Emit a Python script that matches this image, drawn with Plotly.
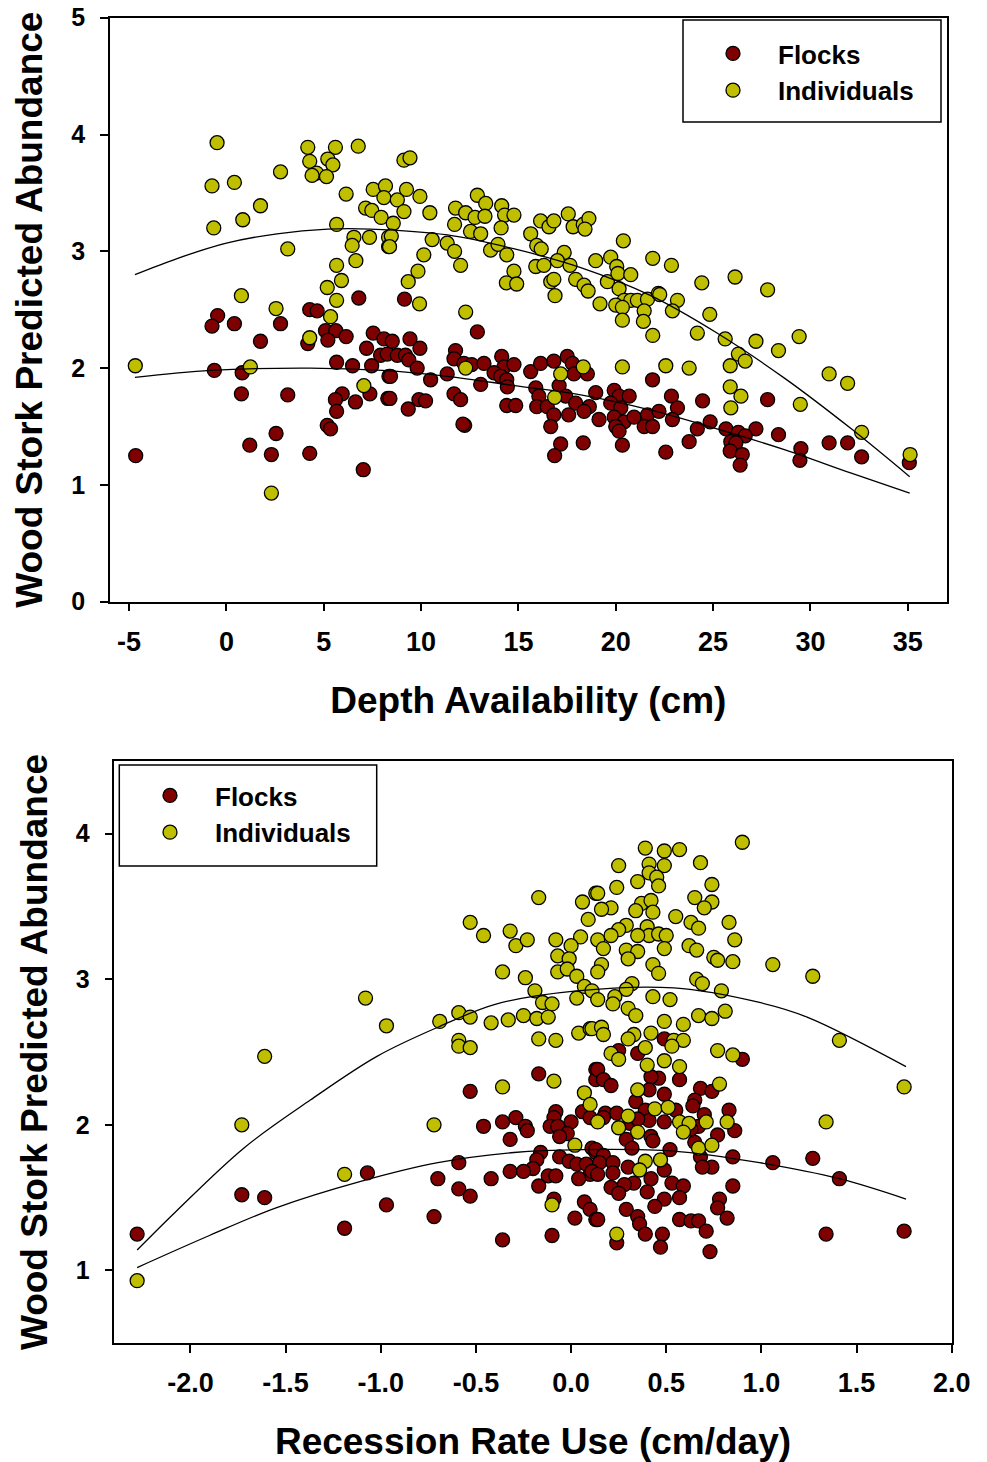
import plotly.graph_objects as go

# ---------------- Top panel: Depth Availability ----------------
depth_flocks_x = [6.80, -0.45, -0.74, 0.41, 2.78, 1.75, 4.28, 4.66, 5.09, 5.62, 6.15, 4.18, 5.21, 7.54, 8.09, 7.20, 7.92, 8.26,
                  5.66, 6.48, 7.46, 8.35, -0.62, 0.81, 0.77, 3.15, 5.95, 5.60, 6.63, 7.37, 8.29, 5.66, 5.18, 5.35, 2.55, 1.20,
                  2.31, 4.28, -4.66, 7.03,
                  9.15, 12.89, 8.52, 9.43, 9.94, 8.78, 9.20, 9.37, 9.80, 8.43, 10.49, 11.77, 11.69, 12.20, 12.60, 13.23, 14.14,
                  14.26, 14.77, 13.75, 11.34, 14.09, 14.40, 13.06, 14.43, 8.40, 9.89, 10.23, 11.69, 12.03, 9.34, 12.24, 12.15,
                  14.40, 14.86, 15.63, 16.14, 16.82, 17.51, 17.77, 17.85, 18.54, 15.89, 17.09, 16.05, 17.43, 15.94, 16.48,
                  17.94, 18.64, 18.37, 16.82, 17.58, 16.66, 18.97, 19.14, 19.92, 20.17, 20.69, 19.74, 20.26, 19.92, 20.43,
                  20.94, 21.63, 21.46, 21.89, 20.00, 20.17, 20.34, 21.89, 17.17, 18.33, 16.86,
                  22.86, 24.46, 27.80, 23.17, 22.22, 22.91, 24.85, 24.19, 25.66, 27.20, 26.30, 26.65, 28.36, 23.77, 25.91,
                  26.17, 25.88, 26.50, 22.57, 26.39, 29.51, 29.46, 30.96, 31.91, 32.63, 35.08]
depth_flocks_y = [2.60, 2.45, 2.36, 2.38, 2.38, 2.23, 2.50, 2.49, 2.32, 2.32, 2.27, 2.21, 2.24, 2.30, 2.25, 2.17, 2.11, 2.12,
                  2.05, 2.02, 2.02, 1.93, 1.98, 1.96, 1.78, 1.77, 1.78, 1.73, 1.71, 1.78, 1.74, 1.63, 1.51, 1.48, 1.44, 1.34,
                  1.26, 1.27, 1.25, 1.13,
                  2.59, 2.31, 2.23, 2.25, 2.17, 2.11, 2.11, 2.07, 2.00, 1.93, 1.90, 2.15, 2.08, 2.04, 2.03, 2.04, 2.10,
                  2.01, 2.03, 1.96, 1.95, 1.93, 1.90, 1.86, 1.84, 1.74, 1.73, 1.72, 1.78, 1.73, 1.65, 1.51, 1.52,
                  1.68, 1.68, 1.97, 2.04, 2.06, 2.10, 2.04, 1.95, 1.95, 1.83, 1.85, 1.76, 1.76, 1.67, 1.67,
                  1.70, 1.67, 1.63, 1.60, 1.60, 1.50, 1.79, 1.56, 1.81, 1.76, 1.76, 1.70, 1.66, 1.58, 1.54,
                  1.58, 1.60, 1.50, 1.50, 1.50, 1.46, 1.34, 1.90, 1.35, 1.36, 1.25,
                  1.76, 1.72, 1.73, 1.66, 1.63, 1.56, 1.54, 1.48, 1.48, 1.48, 1.45, 1.42, 1.43, 1.37, 1.37,
                  1.36, 1.29, 1.26, 1.28, 1.17, 1.31, 1.21, 1.36, 1.36, 1.24, 1.19]

depth_indiv_x = [-0.48, 4.18, 5.60, 6.77, 4.28, 5.21, 5.47, 4.63, 4.40, 5.14, 2.78, -0.74, 0.41, 6.15, 7.54, 8.17, 8.09, 1.75,
                 0.84, -0.65, 7.15, 7.47, 7.95, 5.66, 6.55, 7.35, 6.46, 8.33, 8.33, 3.15, 6.65, 5.66, 5.91, 5.18, 5.66, 0.77,
                 2.55, 5.35, 4.28, -4.68, 1.23, 7.06, 2.31,
                 9.12, 9.43, 8.78, 9.25, 9.12, 9.94, 10.45, 8.57, 8.47, 8.38, 10.57, 10.14, 9.84, 9.34, 9.92, 11.77, 11.72,
                 12.29, 12.89, 13.32, 12.77, 13.28, 12.54, 13.06, 11.34, 11.72, 12.03, 12.29, 13.57, 13.95, 14.40, 14.14,
                 14.29, 14.77, 14.11, 14.77, 14.38, 14.91, 15.63, 15.94, 16.17, 16.14, 16.57, 16.82, 15.89, 16.31, 16.66,
                 16.82, 16.88, 17.35, 17.00, 17.65, 17.56, 17.81, 18.33, 18.62, 18.42, 17.94, 18.37, 18.58, 18.97, 19.74,
                 20.05, 19.57, 20.11, 20.77, 20.17, 20.39, 20.43, 20.77, 21.11, 20.00, 20.34, 20.34, 19.19, 21.63, 21.46,
                 21.42, 21.90, 21.90, 22.19, 12.29, 17.17, 18.33, 20.34, 16.86,
                 22.86, 24.42, 26.13, 27.80, 22.26, 23.17, 22.91, 24.83, 24.19, 25.62, 27.20, 29.42, 26.30, 26.65, 25.88,
                 28.36, 22.57, 23.77, 30.96, 31.91, 25.88, 26.43, 25.91, 29.48, 32.63, 35.12]
depth_indiv_y = [3.93, 3.89, 3.89, 3.90, 3.77, 3.79, 3.74, 3.67, 3.65, 3.64, 3.68, 3.56, 3.59, 3.49, 3.53, 3.56, 3.46, 3.39,
                 3.27, 3.20, 3.37, 3.35, 3.29, 3.23, 3.12, 3.12, 3.05, 3.12, 3.04, 3.02, 2.92, 2.88, 2.75, 2.69, 2.58, 2.62,
                 2.51, 2.44, 2.26, 2.02, 2.01, 1.85, 0.93,
                 3.78, 3.80, 3.44, 3.53, 3.34, 3.47, 3.33, 3.24, 3.13, 3.04, 3.10, 2.97, 2.83, 2.74, 2.55, 3.37, 3.23,
                 3.33, 3.48, 3.41, 3.29, 3.30, 3.17, 3.15, 3.07, 3.00, 2.88, 2.48, 3.01, 3.06, 2.97, 3.39,
                 3.31, 3.31, 3.20, 2.83, 2.73, 2.72, 3.15, 3.05, 3.02, 3.26, 3.21, 3.26, 2.87, 2.88, 2.74,
                 2.76, 2.62, 2.99, 2.92, 2.88, 3.32, 3.21, 3.23, 3.28, 3.19, 2.76, 2.71, 2.66, 2.92, 2.95,
                 2.87, 2.74, 2.81, 2.80, 2.68, 3.09, 2.58, 2.58, 2.58, 2.54, 2.52, 2.41, 2.55, 2.59, 2.49,
                 2.40, 2.28, 2.94, 2.64, 2.00, 1.95, 2.01, 2.01, 1.75,
                 2.88, 2.73, 2.78, 2.67, 2.63, 2.58, 2.49, 2.46, 2.30, 2.25, 2.23, 2.27, 2.12, 2.06, 2.02,
                 2.15, 2.02, 2.00, 1.95, 1.87, 1.84, 1.76, 1.66, 1.69, 1.45, 1.26]

depth_flocks_fit_x = [-4.7, -0.8, 4.3, 8.0, 11.35, 14.8, 18.2, 21.8, 25.2, 28.7, 32.1, 35.1]
depth_flocks_fit_y = [1.92, 1.98, 2.00, 1.98, 1.93, 1.85, 1.77, 1.64, 1.48, 1.30, 1.10, 0.93]
depth_indiv_fit_x = [-4.7, -2.5, 0.0, 2.6, 5.2, 7.4, 11.35, 14.8, 18.2, 21.8, 25.2, 28.7, 32.1, 35.1]
depth_indiv_fit_y = [2.80, 2.94, 3.07, 3.15, 3.19, 3.19, 3.14, 3.02, 2.86, 2.62, 2.30, 1.91, 1.48, 1.07]

depth_tickvals = [-5, 0, 5, 10, 15, 20, 25, 30, 35]
depth_ticktext = ["-5", "0", "5", "10", "15", "20", "25", "30", "35"]
depth_ytickvals = [0, 1, 2, 3, 4, 5]

# ---------------- Bottom panel: Recession Rate Use ----------------
rec_flocks_x = [-2.28, -1.73, -1.61, -1.07, -1.19, -0.97, -0.70, -0.72,
                -0.17, -0.53, -0.46, -0.36, -0.29, -0.24, -0.23, -0.32, -0.08, -0.09, -0.11, -0.07, 0.00, -0.02, -0.06,
                0.06, 0.10, 0.13, 0.13, -0.16, -0.18, -0.20, -0.06, -0.01, 0.03, 0.08, 0.11, 0.13, 0.10, 0.04, -0.12,
                -0.08, -0.17, -0.59, -0.32, -0.25, -0.42, -0.59, -0.53, -0.09, 0.07, 0.10, 0.02, 0.13, -0.36, -0.10,
                0.25, 0.35, 0.49, 0.90, 0.14, 0.17, 0.21, 0.46, 0.57, 0.42, 0.41, 0.49, 0.34, 0.68, 0.74, 0.65, 0.64,
                0.70, 0.83, 0.39, 0.41, 0.49, 0.55, 0.18, 0.24, 0.31, 0.35, 0.17, 0.67, 0.63, 0.77, 0.86, 0.29, 0.42,
                0.43, 0.32, 0.52, 0.65, 0.13, 0.17, 0.15, 0.22, 0.11, 0.14, 0.22, 0.30, 0.49, 0.42, 0.33, 0.28, 0.68,
                0.74, 0.69, 0.85, 0.21, 0.25, 0.40, 0.53, 0.59, 0.57, 0.49, 0.85, 0.78, 0.77, 0.82, 0.14, 0.29, 0.35,
                0.36, 0.39, 0.44, 0.57, 0.63, 0.67, 0.71, 0.48, 0.24, 0.47, 0.73,
                1.06, 1.27, 1.41, 1.34, 1.75]
rec_flocks_y = [1.25, 1.52, 1.50, 1.67, 1.29, 1.45, 1.63, 1.37,
                2.35, 2.23, 1.99, 2.02, 2.05, 1.99, 1.96, 1.90, 2.09, 2.05, 1.99, 1.99, 2.02, 1.94, 1.92,
                2.09, 2.05, 2.38, 2.31, 1.81, 1.76, 1.70, 1.78, 1.75, 1.73, 1.73, 1.84, 1.81, 1.66, 1.63, 1.65,
                1.65, 1.58, 1.74, 1.68, 1.68, 1.63, 1.56, 1.51, 1.49, 1.47, 1.42, 1.36, 1.35, 1.21, 1.24,
                2.51, 2.49, 2.59, 2.45, 2.38, 2.31, 2.27, 2.32, 2.31, 2.33, 2.24, 2.21, 2.16, 2.25, 2.23, 2.17, 2.13,
                2.07, 2.10, 2.10, 2.03, 2.02, 2.10, 2.08, 2.08, 2.01, 2.04, 2.05, 1.99, 1.97, 1.93, 1.96, 1.90, 1.92,
                1.89, 1.84, 1.83, 1.88, 1.83, 1.79, 1.74, 1.74, 1.68, 1.66, 1.67, 1.71, 1.69, 1.63, 1.60, 1.59, 1.78,
                1.71, 1.71, 1.78, 1.57, 1.53, 1.54, 1.60, 1.58, 1.50, 1.49, 1.58, 1.49, 1.43, 1.36, 1.35, 1.42, 1.37,
                1.32, 1.25, 1.44, 1.35, 1.34, 1.34, 1.27, 1.25, 1.19, 1.16, 1.13,
                1.74, 1.77, 1.63, 1.25, 1.27]

rec_indiv_x = [-1.08, -0.97, -1.61, -1.73, -0.72, -1.19, -2.28,
               -0.17, -0.53, -0.46, -0.32, -0.29, -0.23, -0.08, 0.06, 0.13, 0.09, 0.05, 0.00, -0.07, -0.01, -0.07, -0.02,
               0.03, 0.07, -0.36, -0.24, -0.19, -0.15, -0.10, 0.03, -0.69, -0.59, -0.53, -0.42, -0.33, -0.25, -0.18,
               -0.12, -0.59, -0.59, -0.53, -0.17, -0.08, 0.04, 0.10, -0.36, -0.09, 0.07, 0.10, 0.02, -0.10,
               0.90, 0.39, 0.49, 0.57, 0.25, 0.41, 0.49, 0.41, 0.45, 0.46, 0.35, 0.24, 0.68, 0.74, 0.14, 0.65, 0.74,
               0.70, 0.83, 0.86, 0.37, 0.42, 0.43, 0.34, 0.21, 0.16, 0.55, 0.63, 0.67, 0.29, 0.25, 0.21, 0.40, 0.41,
               0.46, 0.50, 0.35, 0.14, 0.17, 0.29, 0.35, 0.49, 0.30, 0.62, 0.66, 0.75, 0.77, 0.85, 0.16, 0.14, 0.43,
               0.46, 0.66, 0.69, 0.32, 0.29, 0.11, 0.14, 0.23, 0.22, 0.30, 0.34, 0.43, 0.52, 0.79, 0.49, 0.59, 0.67,
               0.74, 0.81, 0.11, 0.16, 0.17, 0.33, 0.30, 0.42, 0.54, 0.59, 0.53, 0.39, 0.77, 0.85, 0.21, 0.25, 0.40,
               0.49, 0.57, 0.78, 0.35, 0.44, 0.51, 0.30, 0.14, 0.25, 0.35, 0.57, 0.62, 0.59, 0.71, 0.82, 0.67, 0.74,
               0.39, 0.47, 0.36, 0.24,
               1.06, 1.27, 1.41, 1.75, 1.34]
rec_indiv_y = [2.87, 2.68, 2.47, 2.00, 2.00, 1.66, 0.93,
               3.56, 3.39, 3.30, 3.33, 3.23, 3.27, 3.27, 3.53, 3.59, 3.41, 3.29, 3.23, 3.16, 3.14, 3.05, 3.07,
               3.02, 2.95, 3.05, 3.01, 2.92, 2.84, 2.83, 2.87, 2.71, 2.77, 2.74, 2.70, 2.72, 2.75, 2.73,
               2.74, 2.58, 2.54, 2.53, 2.59, 2.58, 2.63, 2.66, 2.26, 2.30, 2.22, 2.14, 1.86, 1.45,
               3.94, 3.90, 3.88, 3.89, 3.78, 3.79, 3.78, 3.73, 3.70, 3.64, 3.67, 3.63, 3.80, 3.65, 3.59, 3.56, 3.53,
               3.49, 3.39, 3.27, 3.52, 3.54, 3.46, 3.47, 3.49, 3.48, 3.43, 3.39, 3.35, 3.37, 3.34, 3.30, 3.36, 3.30,
               3.31, 3.30, 3.30, 3.27, 3.21, 3.20, 3.19, 3.21, 3.14, 3.23, 3.20, 3.15, 3.13, 3.12, 3.10, 3.05, 3.10,
               3.04, 3.00, 2.97, 2.97, 2.93, 2.92, 2.86, 2.88, 2.83, 2.80, 2.75, 2.88, 2.86, 2.92, 2.71, 2.69, 2.75,
               2.73, 2.78, 2.66, 2.67, 2.62, 2.62, 2.59, 2.63, 2.58, 2.58, 2.54, 2.53, 2.51, 2.48, 2.49, 2.45, 2.41,
               2.44, 2.40, 2.28, 2.24, 2.11, 2.12, 2.06, 2.02, 1.98, 1.95, 2.02, 2.01, 1.95, 2.02, 2.02, 1.84, 1.86,
               1.75, 1.76, 1.69, 1.25,
               3.10, 3.02, 2.58, 2.26, 2.02]

rec_flocks_fit_x = [-2.28, -1.9, -1.55, -1.11, -0.70, -0.30, 0.05, 0.54, 0.99, 1.41, 1.76]
rec_flocks_fit_y = [1.02, 1.24, 1.43, 1.61, 1.74, 1.81, 1.83, 1.82, 1.74, 1.63, 1.49]
rec_indiv_fit_x = [-2.28, -2.08, -1.72, -1.37, -1.02, -0.70, -0.39, 0.03, 0.54, 0.99, 1.24, 1.76]
rec_indiv_fit_y = [1.14, 1.40, 1.84, 2.17, 2.47, 2.67, 2.83, 2.92, 2.94, 2.84, 2.74, 2.40]

rec_tickvals = [-2.0, -1.5, -1.0, -0.5, 0.0, 0.5, 1.0, 1.5, 2.0]
rec_ticktext = ["-2.0", "-1.5", "-1.0", "-0.5", "0.0", "0.5", "1.0", "1.5", "2.0"]
rec_ytickvals = [1, 2, 3, 4]

# ---------------- Styling ----------------
W, H = 987, 1462
RED = "#7f0000"
YEL = "#bfbf00"
FONT = "Liberation Sans, Arial, sans-serif"


def px_x(p):
    return p / W


def px_y(p):
    return 1 - p / H


marker_common = dict(size=14, line=dict(color="black", width=1.3))
fit_line = dict(color="black", width=1.3, shape="spline")

fig = go.Figure()

# top panel
fig.add_trace(go.Scatter(x=depth_flocks_x, y=depth_flocks_y, mode="markers", name="Flocks",
                         marker=dict(color=RED, **marker_common), xaxis="x", yaxis="y", legend="legend"))
fig.add_trace(go.Scatter(x=depth_indiv_x, y=depth_indiv_y, mode="markers", name="Individuals",
                         marker=dict(color=YEL, **marker_common), xaxis="x", yaxis="y", legend="legend"))
fig.add_trace(go.Scatter(x=depth_indiv_fit_x, y=depth_indiv_fit_y, mode="lines", line=fit_line,
                         showlegend=False, xaxis="x", yaxis="y", hoverinfo="skip"))
fig.add_trace(go.Scatter(x=depth_flocks_fit_x, y=depth_flocks_fit_y, mode="lines", line=fit_line,
                         showlegend=False, xaxis="x", yaxis="y", hoverinfo="skip"))

# bottom panel
fig.add_trace(go.Scatter(x=rec_flocks_x, y=rec_flocks_y, mode="markers", name="Flocks",
                         marker=dict(color=RED, **marker_common), xaxis="x2", yaxis="y2", legend="legend2"))
fig.add_trace(go.Scatter(x=rec_indiv_x, y=rec_indiv_y, mode="markers", name="Individuals",
                         marker=dict(color=YEL, **marker_common), xaxis="x2", yaxis="y2", legend="legend2"))
fig.add_trace(go.Scatter(x=rec_indiv_fit_x, y=rec_indiv_fit_y, mode="lines", line=fit_line,
                         showlegend=False, xaxis="x2", yaxis="y2", hoverinfo="skip"))
fig.add_trace(go.Scatter(x=rec_flocks_fit_x, y=rec_flocks_fit_y, mode="lines", line=fit_line,
                         showlegend=False, xaxis="x2", yaxis="y2", hoverinfo="skip"))

xtickfont = dict(family=FONT, size=27, color="black", weight="bold")
ytickfont = dict(family=FONT, size=25, color="black", weight="bold")
titlefont = dict(family=FONT, size=37, color="black", weight="bold")
axis_common = dict(showline=True, linecolor="black", linewidth=1.5, mirror=True, ticks="outside", ticklen=8,
                   tickwidth=1.5, tickcolor="black", showgrid=False, zeroline=False,
                   automargin=False, ticklabeloverflow="allow")
legend_font = dict(family=FONT, size=26, color="black", weight="bold")

fig.update_layout(
    width=W, height=H,
    margin=dict(l=0, r=0, t=0, b=0),
    paper_bgcolor="white", plot_bgcolor="white",
    showlegend=True,
    xaxis=dict(domain=[px_x(110), px_x(946.7)], range=[-5.98, 37.0], tickvals=depth_tickvals, ticktext=depth_ticktext,
               anchor="y", ticklabelstandoff=7, tickfont=xtickfont,
               title=dict(text="Depth Availability (cm)", font=titlefont, standoff=31), **axis_common),
    yaxis=dict(domain=[px_y(601.7), px_y(17.7)], range=[0, 5], tickvals=depth_ytickvals, anchor="x",
               ticklabelstandoff=10, tickfont=ytickfont,
               title=dict(text="Wood Stork Predicted Abundance", font=titlefont, standoff=17), **axis_common),
    xaxis2=dict(domain=[px_x(114.3), px_x(951.7)], range=[-2.4, 2.0], tickvals=rec_tickvals, ticktext=rec_ticktext,
                anchor="y2", ticklabelstandoff=7, tickfont=xtickfont,
                title=dict(text="Recession Rate Use (cm/day)", font=titlefont, standoff=32), **axis_common),
    yaxis2=dict(domain=[px_y(1343.3), px_y(760.7)], range=[0.5, 4.5], tickvals=rec_ytickvals, anchor="x2",
                ticklabelstandoff=10, tickfont=ytickfont,
                title=dict(text="Wood Stork Predicted Abundance", font=titlefont, standoff=17), **axis_common),
    legend=dict(x=px_x(688), y=px_y(30), xanchor="left", yanchor="top", bgcolor="rgba(0,0,0,0)",
                borderwidth=0, itemwidth=80, font=legend_font),
    legend2=dict(x=px_x(125), y=px_y(772), xanchor="left", yanchor="top", bgcolor="rgba(0,0,0,0)",
                 borderwidth=0, itemwidth=80, font=legend_font),
    shapes=[
        dict(type="rect", xref="paper", yref="paper", x0=px_x(683), x1=px_x(941), y0=px_y(122), y1=px_y(20),
             line=dict(color="black", width=1.5), fillcolor="rgba(0,0,0,0)"),
        dict(type="rect", xref="paper", yref="paper", x0=px_x(119.3), x1=px_x(376.7), y0=px_y(866), y1=px_y(765),
             line=dict(color="black", width=1.5), fillcolor="rgba(0,0,0,0)"),
    ],
)

# remove the default page margin so the figure sits at the top-left corner of the window
fig.write_html("out.html", config={"displayModeBar": False},
               post_script="document.body.style.margin='0';")
